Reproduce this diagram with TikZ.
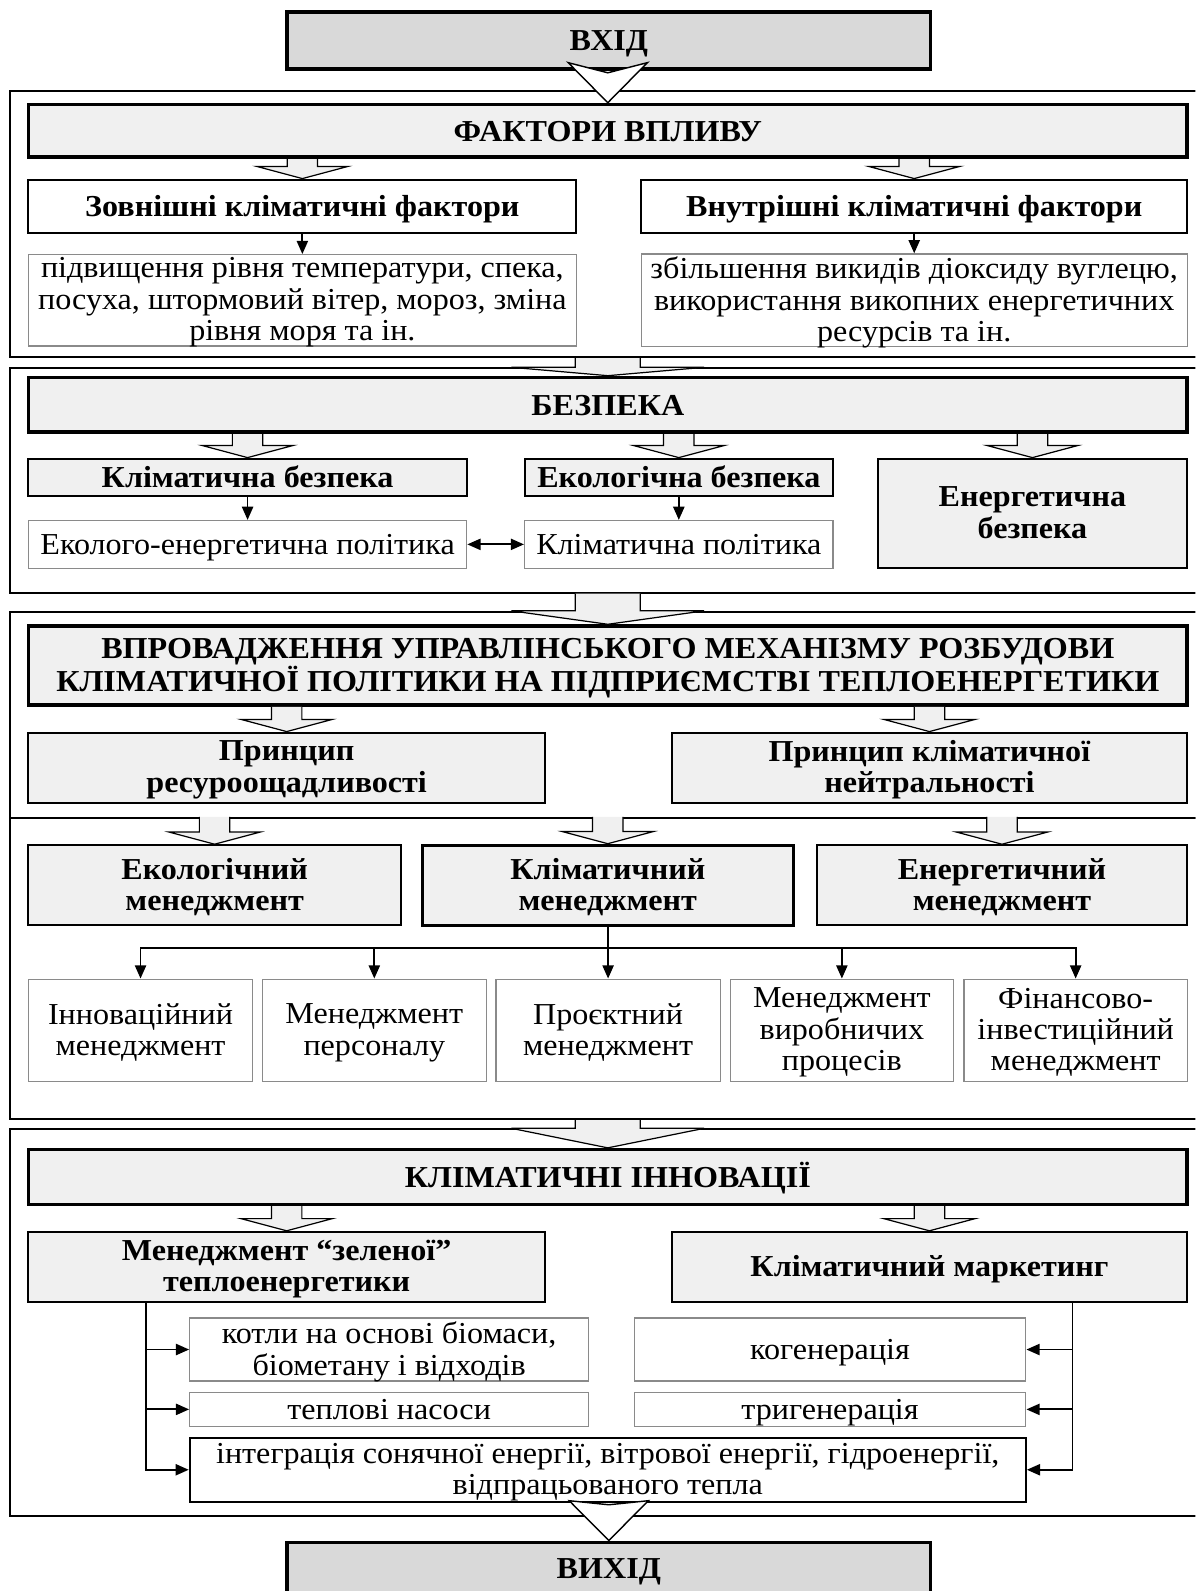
\documentclass[tikz,border=0pt]{standalone}
\usepackage{fontspec}
\setmainfont{Liberation Serif}[FakeStretch=1.055]
\usetikzlibrary{arrows.meta, calc, positioning}

\definecolor{iogray}{HTML}{D9D9D9}
\definecolor{boxgray}{HTML}{F0F0F0}
\definecolor{thingray}{HTML}{8A8A8A}

\newcommand{\bx}{\fontsize{30}{31}\selectfont}

% hollow arrow from an anchor down into a node
\newcommand{\fatarrow}[2]{%
  \draw[fat] let \p1=(#2.north), \p2=(#1) in
    (\x1-15pt,\y2) -- (\x1-15pt,\y1+12pt) -- (\x1-45pt,\y1+12pt) -- (\p1)
    -- (\x1+45pt,\y1+12pt) -- (\x1+15pt,\y1+12pt) -- (\x1+15pt,\y2);}

% wide arrow from one frame over the next one into a node
\newcommand{\bigarrow}[3]{%
  \draw[fat] let \p1=(#3.north), \p2=(#1.south), \p3=(#2.north) in
    (\x1-32pt,\y2) -- (\x1-32pt,\y3) -- (\x1-95pt,\y3) -- (\p1)
    -- (\x1+95pt,\y3) -- (\x1+32pt,\y3) -- (\x1+32pt,\y2);}

% open chevron between two nodes, #3 = how far it reaches up
\newcommand{\chevron}[3]{%
  \draw[chev] let \p1=(#1.south), \p2=(#2.north) in
    (\x2-39pt,\y1+#3pt) -- (\x2,\y1-2pt) -- (\x2+39pt,\y1+#3pt) -- (\p2) -- cycle;}

\begin{document}
\begin{tikzpicture}[x=1pt, y=-1pt,
    io/.style={draw, line width=3.5pt, fill=iogray, font=\bx\bfseries,
      minimum width=634pt, inner sep=3pt, text depth=2pt},
    head/.style={draw, line width=3.5pt, fill=boxgray, font=\bx\bfseries,
      align=center, minimum width=1142pt, inner sep=3pt, text depth=2pt},
    sub/.style={draw, line width=2pt, fill=boxgray, font=\bx\bfseries,
      align=center, inner sep=3pt, text depth=2pt},
    txt/.style={draw=thingray, line width=1.2pt, fill=white, font=\bx,
      align=center, inner sep=3pt, text depth=2pt},
    one/.style={text height=22pt},
    frame/.style={draw, line width=2pt, minimum width=1190pt},
    fat/.style={draw, line width=1.2pt, fill=boxgray},
    chev/.style={draw, line width=1.4pt, fill=white, line join=miter},
    arr/.style={-{Triangle[length=13pt,width=11pt]}, line width=1.8pt},
    twoarr/.style={{Triangle[length=13pt,width=11pt]}-{Triangle[length=13pt,width=11pt]}, line width=1.8pt},
    node distance=230.4pt, on grid]

    \useasboundingbox (0,0) rectangle (1178,1568);
    \clip (0,0) rectangle (1178,1568);

    % frames
    \node[frame, minimum height=262pt] (f1) at (605,221) {};
    \node[frame, minimum height=221pt] (f2) at (605,473.5) {};
    \node[frame, minimum height=203pt] (f3) at (605,704.5) {};
    \node[frame, minimum height=297pt] (f4) at (605,954.5) {};
    \node[frame, minimum height=381pt] (f5) at (605,1303.5) {};

    \node[io, one, minimum height=56pt] (vhid) at (600,40) {ВХІД};

    % factors
    \node[head, one, minimum height=52pt] (fak) at (599,129) {ФАКТОРИ ВПЛИВУ};
    \node[sub, one, fill=white, minimum width=540pt, minimum height=53pt] (zovn) at (298,203.5) {Зовнішні кліматичні фактори};
    \node[sub, one, fill=white, minimum width=538pt, minimum height=53pt] (vnut) at (901,203.5) {Внутрішні кліматичні фактори};
    \node[txt, minimum width=540pt, minimum height=90pt] (zovt) at (298,296)
      {підвищення рівня температури, спека,\\ посуха, штормовий вітер, мороз, зміна\\ рівня моря та ін.};
    \node[txt, minimum width=538pt, minimum height=90pt] (vnutt) at (901,296)
      {збільшення викидів діоксиду вуглецю,\\ використання викопних енергетичних\\ ресурсів та ін.};

    % security
    \node[head, one, minimum height=54pt] (bez) at (599,399) {БЕЗПЕКА};
    \node[sub, one, minimum width=432pt, minimum height=37pt] (klb) at (244,470.5) {Кліматична безпека};
    \node[sub, one, minimum width=304pt, minimum height=37pt] (ekb) at (669,470.5) {Екологічна безпека};
    \node[sub, minimum width=305pt, minimum height=108pt] (enb) at (1017.5,506) {Енергетична\\ безпека};
    \node[txt, one, minimum width=432pt, minimum height=47pt] (eep) at (244,536.5) {Еколого-енергетична політика};
    \node[txt, one, minimum width=304pt, minimum height=47pt] (klp) at (669,536.5) {Кліматична політика};

    % mechanism
    \node[head, minimum height=78pt] (vpr) at (599,656)
      {ВПРОВАДЖЕННЯ УПРАВЛІНСЬКОГО МЕХАНІЗМУ РОЗБУДОВИ\\ КЛІМАТИЧНОЇ ПОЛІТИКИ НА ПІДПРИЄМСТВІ ТЕПЛОЕНЕРГЕТИКИ};
    \node[sub, minimum width=509pt, minimum height=69pt] (prr) at (282.5,756.5) {Принцип\\ ресуроощадливості};
    \node[sub, minimum width=508pt, minimum height=69pt] (prk) at (916,756.5) {Принцип кліматичної\\ нейтральності};

    % management
    \node[sub, minimum width=367pt, minimum height=79pt] (eko) at (211.5,872.5) {Екологічний\\ менеджмент};
    \node[sub, line width=3pt, minimum width=366pt, minimum height=79pt] (klm) at (599,872.5) {Кліматичний\\ менеджмент};
    \node[sub, minimum width=365pt, minimum height=79pt] (enm) at (987.5,872.5) {Енергетичний\\ менеджмент};

    \node[txt, minimum width=221pt, minimum height=101pt] (m1) at (138.5,1015.5) {Інноваційний\\ менеджмент};
    \node[txt, minimum width=221pt, minimum height=101pt] (m2) [right=of m1] {Менеджмент\\ персоналу};
    \node[txt, minimum width=221pt, minimum height=101pt] (m3) [right=of m2] {Проєктний\\ менеджмент};
    \node[txt, minimum width=220pt, minimum height=101pt] (m4) [right=of m3] {Менеджмент\\ виробничих\\ процесів};
    \node[txt, minimum width=220pt, minimum height=101pt] (m5) [right=of m4] {Фінансово-\\ інвестиційний\\ менеджмент};

    % innovations
    \node[head, one, minimum height=54pt] (kli) at (599,1160) {КЛІМАТИЧНІ ІННОВАЦІЇ};
    \node[sub, minimum width=509pt, minimum height=69pt] (zel) at (282.5,1248.5) {Менеджмент “зеленої”\\ теплоенергетики};
    \node[sub, one, minimum width=508pt, minimum height=69pt] (mar) at (916,1248.5) {Кліматичний маркетинг};
    \node[txt, minimum width=393pt, minimum height=62pt] (kot) at (383.5,1330) {котли на основі біомаси,\\ біометану і відходів};
    \node[txt, one, minimum width=393pt, minimum height=34pt] (tep) at (383.5,1389) {теплові насоси};
    \node[txt, one, minimum width=386pt, minimum height=62pt] (kog) at (818,1330) {когенерація};
    \node[txt, one, minimum width=386pt, minimum height=34pt] (tri) at (818,1389) {тригенерація};
    \node[txt, draw=black, line width=2pt, minimum width=824pt, minimum height=63pt] (intg) at (599,1448.5)
      {інтеграція сонячної енергії, вітрової енергії, гідроенергії,\\ відпрацьованого тепла};

    \node[io, one, minimum height=52pt] (vyh) at (600,1546) {ВИХІД};

    % connectors
    \chevron{vhid}{fak}{8}
    \fatarrow{fak.south}{zovn}
    \fatarrow{fak.south}{vnut}
    \draw[arr] (zovn) -- (zovt);
    \draw[arr] (vnut) -- (vnutt);

    \bigarrow{f1}{f2}{bez}
    \fatarrow{bez.south}{klb}
    \fatarrow{bez.south}{ekb}
    \fatarrow{bez.south}{enb}
    \draw[arr] (klb) -- (eep);
    \draw[arr] (ekb) -- (klp);
    \draw[twoarr] (eep) -- (klp);

    \bigarrow{f2}{f3}{vpr}
    \fatarrow{vpr.south}{prr}
    \fatarrow{vpr.south}{prk}
    \fatarrow{f4.north}{eko}
    \fatarrow{f4.north}{klm}
    \fatarrow{f4.north}{enm}

    \coordinate (kbus) at ([yshift=-21pt]klm.south);
    \draw[line width=1.8pt] (klm.south) -- (kbus);
    \foreach \m in {m1,m2,m3,m4,m5}
      \draw[arr] (kbus) -| (\m.north);

    \bigarrow{f4}{f5}{kli}
    \fatarrow{kli.south}{zel}
    \fatarrow{kli.south}{mar}

    \coordinate (zbus) at ([xshift=117pt]zel.south west);
    \coordinate (mbus) at ([xshift=-114pt]mar.south east);
    \foreach \t in {kot,tep,intg}
      \draw[arr] (zbus) |- (\t.west);
    \foreach \t in {kog,tri,intg}
      \draw[arr] (mbus) |- (\t.east);

    \chevron{intg}{vyh}{2}

\end{tikzpicture}
\end{document}
